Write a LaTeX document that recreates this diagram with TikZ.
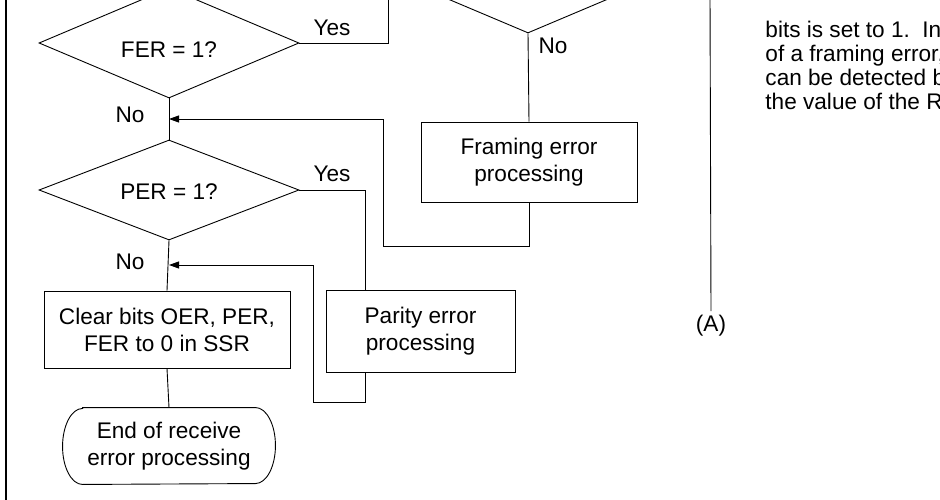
\documentclass[tikz,border=0pt]{standalone}
\usepackage{fontspec}
\setmainfont{Liberation Sans}
\usetikzlibrary{shapes.geometric, arrows.meta}
\begin{document}
\begin{tikzpicture}[x=1pt, y=-1pt,
  line width=0.9pt,
  every node/.style={font=\fontsize{22.6}{27}\selectfont},
  decision/.style={draw, diamond, inner sep=0pt, minimum width=260pt, minimum height=110pt},
  procbox/.style={draw, rectangle, inner sep=0pt, align=center},
  lbl/.style={inner sep=0pt},
  arr/.style={-{Triangle[length=10pt,width=7pt]}}
]
\useasboundingbox (0,0) rectangle (940,500);
\begin{scope}
\clip (0,0) rectangle (940,500);

% frame edge
\draw[line width=2pt] (6,-2) -- (6,502);

% decisions
\node[decision] (topd) at (528,-22) {};
\node[decision] (fer) at (169,43) {};
\node[lbl] at (169,50) {FER = 1?};
\node[decision, minimum height=100pt] (per) at (169,190) {};
\node[lbl] at (169,192) {PER = 1?};

% processing boxes
\node[procbox, minimum width=216pt, minimum height=80pt] (frame) at (529,162) {Framing error\\processing};
\node[procbox, minimum width=189pt, minimum height=82pt] (parity) at (420.5,331) {Parity error\\processing};
\node[procbox, minimum width=246pt, minimum height=77pt] (clear) at (167,329.5) {Clear bits OER, PER,\\FER to 0 in SSR};

% terminal
\node[inner sep=0pt, minimum width=212pt, minimum height=76pt, align=center] (end) at (169,446) {End of receive\\error processing};
\draw ([xshift=20pt]end.north west) -- ([xshift=-20pt]end.north east)
  arc[start angle=90, end angle=-90, x radius=20pt, y radius=38pt]
  -- ([xshift=20pt]end.south west)
  arc[start angle=270, end angle=90, x radius=20pt, y radius=38pt] -- cycle;

% junction points
\coordinate (topA) at (388,-5);
\coordinate (fret) at (383,246);
\coordinate (j1) at (169,119);
\coordinate (pret) at (313,402);
\coordinate (j2) at (169,265);
\coordinate (topB) at (710,-5);

% connectors
\draw (fer.east) -| (topA);
\draw (topd.south) -- (frame.north);
\draw[arr] (frame.south) |- (fret) |- (j1);
\draw (fer.south) -- (per.north);
\draw (per.east) -| ([xshift=40pt]parity.north west);
\draw[arr] ([xshift=40pt]parity.south west) |- (pret) |- (j2);
\draw (per.south) -- (clear.north);
\draw (clear.south) -- (end.north);

% labels
\node[lbl] (yes1) at (332,28) {Yes};
\node[lbl] (no1) at (553,46) {No};
\node[lbl] (no2) at (130,115) {No};
\node[lbl] (yes2) at (332,174) {Yes};
\node[lbl] (no3) at (130,262) {No};

% off-page connector
\node[inner sep=4pt] (conA) at (711,326) {(A)};
\draw (topB) -- (conA.north);

% note text
\node[anchor=north west, align=left, inner sep=0pt, font=\fontsize{22.6}{24}\selectfont] (note) at (765,21)
  {bits is set to 1.~~In the\\of a framing error, a\\can be detected by\\the value of the RxD};
\end{scope}
\end{tikzpicture}
\end{document}
